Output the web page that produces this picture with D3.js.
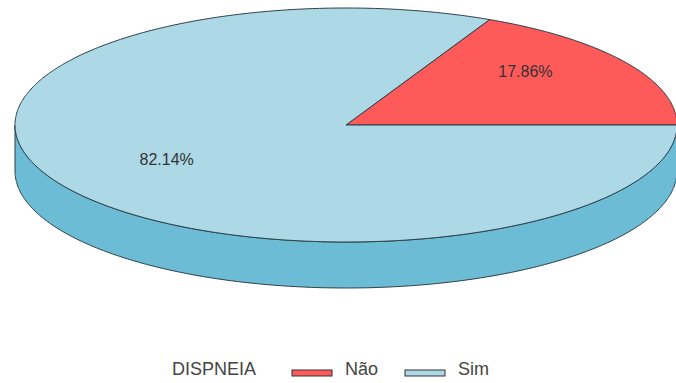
<!DOCTYPE html>
<html>
<head>
<meta charset="utf-8">
<script src="https://cdn.jsdelivr.net/npm/d3@7"></script>
<style>
  body { margin: 0; background: white; }
  text { font-family: "Liberation Sans", Arial, sans-serif; }
</style>
</head>
<body>
<div id="chart-area"></div>
<script>
var categories = ["Não", "Sim"];
var counts = [5, 23];
var colors = ["#ff5a5a", "#add8e6"];
var sideColors = ["#d94848", "#6dbcd5"];
var legendTitle = "DISPNEIA";

var width = 676, height = 383;
var cx = 346, cy = 125, rx = 331, ry = 117, depth = 46;

var svg = d3.select("#chart-area").append("svg")
  .attr("width", width)
  .attr("height", height);

var total = d3.sum(counts);
// start at 3 o'clock, go counter-clockwise
var pie = d3.pie().sort(null)
  .startAngle(Math.PI / 2)
  .endAngle(Math.PI / 2 - 2 * Math.PI);
var arcs = pie(counts);

function pt(a, dy) {
  return [cx + rx * Math.sin(a), cy - ry * Math.cos(a) + (dy || 0)];
}
function sample(a0, a1, dy) {
  var n = Math.max(2, Math.ceil(Math.abs(a1 - a0) / 0.01));
  return d3.range(n + 1).map(function(i) { return pt(a0 + (a1 - a0) * i / n, dy); });
}

var line = d3.line();

// sides (only the front half, angles between pi/2 and 3pi/2)
arcs.forEach(function(d, i) {
  var lo = Math.min(d.startAngle, d.endAngle), hi = Math.max(d.startAngle, d.endAngle);
  [-2 * Math.PI, 0, 2 * Math.PI].forEach(function(k) {
    var a0 = Math.max(lo + k, Math.PI / 2), a1 = Math.min(hi + k, 3 * Math.PI / 2);
    if (a1 - a0 > 1e-6) {
      var top = sample(a0, a1, 0);
      var bottom = sample(a1, a0, depth);
      svg.append("path")
        .attr("d", line(top.concat(bottom)) + "Z")
        .attr("fill", sideColors[i])
        .attr("stroke", "#2b3f48")
        .attr("stroke-width", 1);
    }
  });
});

// top faces
arcs.forEach(function(d, i) {
  var pts = [[cx, cy]].concat(sample(d.startAngle, d.endAngle, 0));
  svg.append("path")
    .attr("d", line(pts) + "Z")
    .attr("fill", colors[i])
    .attr("stroke", "#2b3f48")
    .attr("stroke-width", 1)
    .attr("stroke-linejoin", "round");
});

// percent labels
arcs.forEach(function(d, i) {
  var mid = (d.startAngle + d.endAngle) / 2;
  var p = [cx + rx * 0.64 * Math.sin(mid), cy - 10 - 82 * Math.cos(mid)];
  svg.append("text")
    .attr("x", p[0])
    .attr("y", p[1] + 6)
    .attr("text-anchor", "middle")
    .attr("font-size", "16px")
    .attr("fill", "#333")
    .text(d3.format(".2f")(d.value / total * 100) + "%");
});

// legend
var lg = svg.append("g").attr("transform", "translate(0,375)");
lg.append("text")
  .attr("x", 172).attr("y", 0)
  .attr("font-size", "18px").attr("fill", "#444")
  .text(legendTitle);
var lx = d3.scaleOrdinal().domain(categories).range([292, 405]);
categories.forEach(function(c, i) {
  lg.append("rect")
    .attr("x", lx(c)).attr("y", -5)
    .attr("width", 40).attr("height", 6)
    .attr("fill", colors[i])
    .attr("stroke", "#333").attr("stroke-width", 1);
  lg.append("text")
    .attr("x", lx(c) + 53).attr("y", 0)
    .attr("font-size", "18px").attr("fill", "#444")
    .text(c);
});
</script>
</body>
</html>
